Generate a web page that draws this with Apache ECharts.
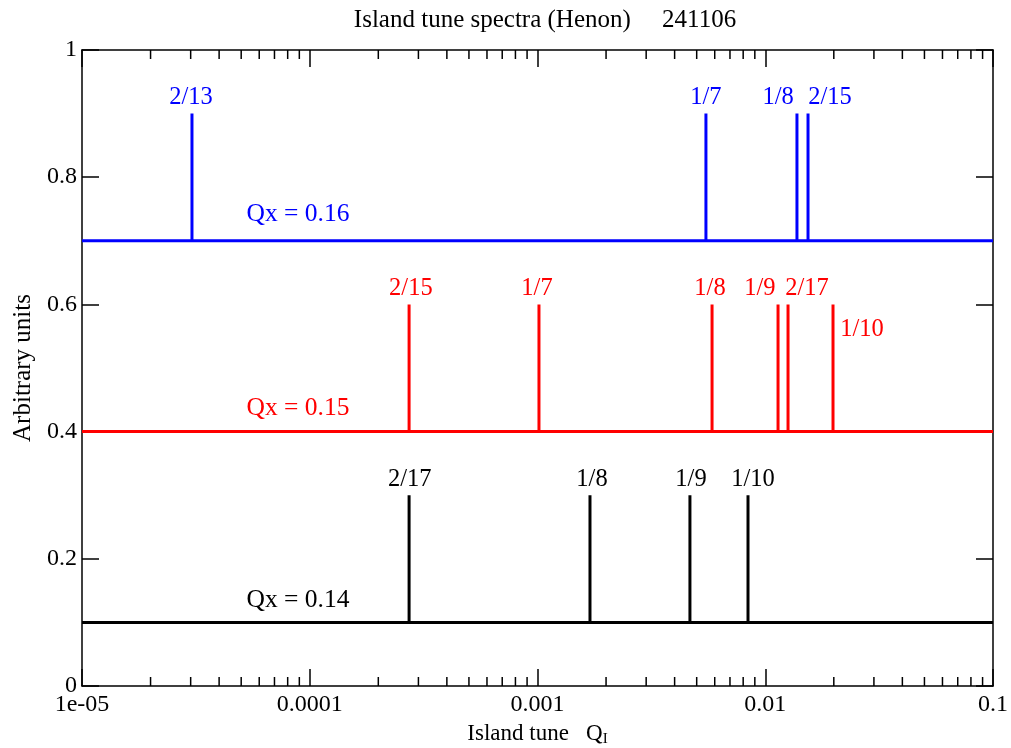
<!DOCTYPE html>
<html>
<head>
<meta charset="utf-8">
<title>Island tune spectra</title>
<script src="https://cdn.jsdelivr.net/npm/echarts@6/dist/echarts.min.js"></script>
<style>
  html, body { margin: 0; padding: 0; background: #fff; }
  #chart-container { width: 1011px; height: 748px; }
</style>
</head>
<body>
<div id="chart-container"></div>
<script>
var dom = document.getElementById('chart-container');
var myChart = echarts.init(dom);

// tick labels of the log axis, one per decade 1e-5 .. 0.1
var xTickLabels = ['1e-05', '0.0001', '0.001', '0.01', '0.1'];

// spectra: baseline level, peak level, peak positions (island tune)
var blueBase = 0.7, bluePeak = 0.9;
var bluePeaks = [3.04e-5, 5.49e-3, 0.01378, 0.01541];

var redBase = 0.4, redPeak = 0.6;
var redPeaks = [2.73e-4, 1.015e-3, 5.84e-3, 0.01138, 0.01259, 0.01984];

var blackBase = 0.1, blackPeak = 0.3;
var blackPeaks = [2.73e-4, 1.70e-3, 4.67e-3, 8.40e-3];

// text strings in world coordinates [x, y, text]
var blueLabels = [
  [3.01e-5, 0.925, '2/13'],
  [5.49e-3, 0.925, '1/7'],
  [0.01138, 0.925, '1/8'],
  [0.01924, 0.925, '2/15'],
  [8.88e-5, 0.741, 'Qx = 0.16']
];
var redLabels = [
  [2.78e-4, 0.625, '2/15'],
  [9.95e-4, 0.625, '1/7'],
  [5.72e-3, 0.625, '1/8'],
  [9.48e-3, 0.625, '1/9'],
  [0.01525, 0.625, '2/17'],
  [0.0266, 0.561, '1/10'],
  [8.88e-5, 0.437, 'Qx = 0.15']
];
var blackLabels = [
  [2.75e-4, 0.325, '2/17'],
  [1.735e-3, 0.325, '1/8'],
  [4.72e-3, 0.325, '1/9'],
  [8.84e-3, 0.325, '1/10'],
  [8.88e-5, 0.135, 'Qx = 0.14']
];

var xMin = 1e-5, xMax = 0.1;
var FONT = '"Liberation Serif", "DejaVu Serif", serif';

// baseline with vertical spikes
function spectrum(base, peak, peaks) {
  var pts = [[xMin, base]];
  peaks.slice().sort(function (a, b) { return a - b; }).forEach(function (x) {
    pts.push([x, base], [x, peak], [x, base]);
  });
  pts.push([xMax, base]);
  return pts;
}

// minor ticks 2..9 in each decade
var minorTicks = [];
for (var d = -5; d < -1; d++) {
  for (var m = 2; m <= 9; m++) {
    minorTicks.push([m * Math.pow(10, d), 0]);
  }
}

function lineSeries(color, base, peak, peaks) {
  return {
    type: 'line',
    data: spectrum(base, peak, peaks),
    symbol: 'none',
    lineStyle: { color: color, width: 3 },
    animation: false,
    z: 3
  };
}

function labelSeries(color, labels) {
  return {
    type: 'scatter',
    data: labels,
    symbolSize: 0,
    silent: true,
    animation: false,
    itemStyle: { opacity: 1 },
    label: {
      show: true,
      position: 'inside',
      align: 'center',
      verticalAlign: 'middle',
      color: color,
      opacity: 1,
      fontFamily: FONT,
      fontSize: 24.5,
      formatter: function (p) {
        var t = p.value[2];
        return t.indexOf('Qx') === 0 ? '{q|' + t + '}' : t;
      },
      rich: { q: { fontFamily: FONT, fontSize: 25.5, color: color } }
    },
    z: 4
  };
}

var tickStyle = { color: '#000', width: 1.5 };

myChart.setOption({
  backgroundColor: '#fff',
  animation: false,
  title: {
    text: 'Island tune spectra (Henon)     241106',
    left: 540,
    top: 3,
    textAlign: 'center',
    textStyle: { fontFamily: FONT, fontSize: 25, fontWeight: 'normal', color: '#000' }
  },
  grid: { left: 82, right: 18, top: 50, bottom: 62, containLabel: false, outerBoundsMode: 'none' },
  xAxis: [
    {
      type: 'log',
      logBase: 10,
      min: xMin,
      max: xMax,
      position: 'bottom',
      name: 'Island tune   Q{sub|I}',
      nameLocation: 'middle',
      nameGap: 34,
      nameTextStyle: {
        fontFamily: FONT, fontSize: 23, color: '#000',
        rich: { sub: { fontFamily: FONT, fontSize: 15, color: '#000', verticalAlign: 'bottom', padding: [12, 0, 0, 0] } }
      },
      axisLine: { show: true, onZero: false, lineStyle: tickStyle },
      axisTick: { show: true, inside: true, length: 17, lineStyle: tickStyle },
      axisLabel: {
        fontFamily: FONT, fontSize: 24, color: '#000', margin: 7,
        formatter: function (v) { return xTickLabels[Math.round(Math.log10(v)) + 5]; }
      },
      splitLine: { show: false }
    },
    {
      type: 'log',
      logBase: 10,
      min: xMin,
      max: xMax,
      position: 'top',
      axisLine: { show: true, onZero: false, lineStyle: tickStyle },
      axisTick: { show: true, inside: true, length: 17, lineStyle: tickStyle },
      axisLabel: { show: false },
      splitLine: { show: false }
    }
  ],
  yAxis: [
    {
      type: 'value',
      min: 0,
      max: 1,
      interval: 0.2,
      position: 'left',
      name: 'Arbitrary units',
      nameLocation: 'middle',
      nameGap: 46,
      nameTextStyle: { fontFamily: FONT, fontSize: 25, color: '#000' },
      axisLine: { show: true, onZero: false, lineStyle: tickStyle },
      axisTick: { show: true, inside: true, length: 17, lineStyle: tickStyle },
      axisLabel: { fontFamily: FONT, fontSize: 24, color: '#000', margin: 5 },
      splitLine: { show: false }
    },
    {
      type: 'value',
      min: 0,
      max: 1,
      interval: 0.2,
      position: 'right',
      axisLine: { show: true, onZero: false, lineStyle: tickStyle },
      axisTick: { show: true, inside: true, length: 17, lineStyle: tickStyle },
      axisLabel: { show: false },
      splitLine: { show: false }
    }
  ],
  series: [
    lineSeries('#000000', blackBase, blackPeak, blackPeaks),
    lineSeries('#ff0000', redBase, redPeak, redPeaks),
    lineSeries('#0000ff', blueBase, bluePeak, bluePeaks),
    labelSeries('#000000', blackLabels),
    labelSeries('#ff0000', redLabels),
    labelSeries('#0000ff', blueLabels),
    {
      type: 'custom',
      data: minorTicks,
      silent: true,
      animation: false,
      clip: false,
      renderItem: function (params, api) {
        var x = api.value(0);
        var b = api.coord([x, 0]);
        var t = api.coord([x, 1]);
        return {
          type: 'group',
          children: [
            { type: 'line', shape: { x1: b[0], y1: b[1], x2: b[0], y2: b[1] - 9 }, style: { stroke: '#000', lineWidth: 1.5 } },
            { type: 'line', shape: { x1: t[0], y1: t[1], x2: t[0], y2: t[1] + 9 }, style: { stroke: '#000', lineWidth: 1.5 } }
          ]
        };
      },
      z: 5
    }
  ]
});

window.addEventListener('resize', myChart.resize);
</script>
</body>
</html>
